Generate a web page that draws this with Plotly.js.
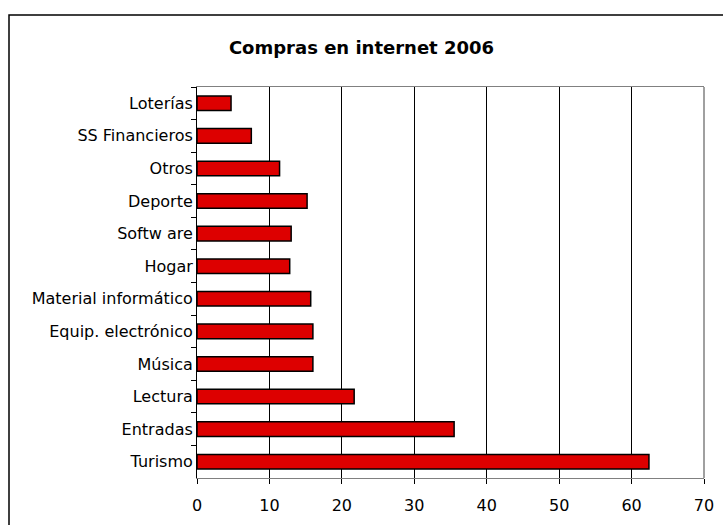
<!DOCTYPE html>
<html>
<head>
<meta charset="utf-8">
<script src="https://cdn.plot.ly/plotly-3.0.1.min.js"></script>
<style>html,body{margin:0;padding:0;background:#fff;}#chart{width:723px;height:525px;}</style>
</head>
<body>
<div id="chart"></div>
<script>
// Categories listed top to bottom as shown
const categories = ["Loterías", "SS Financieros", "Otros", "Deporte", "Softw are", "Hogar",
  "Material informático", "Equip. electrónico", "Música", "Lectura", "Entradas", "Turismo"];
const values = [4.7, 7.5, 11.4, 15.2, 13.0, 12.8, 15.7, 16.0, 16.0, 21.7, 35.5, 62.4];
const xTicks = [0, 10, 20, 30, 40, 50, 60, 70];
const chartTitle = "Compras en internet 2006";

const trace = {
  type: "bar",
  orientation: "h",
  y: categories,
  x: values,
  marker: { color: "#DD0000", line: { color: "#000000", width: 1.5 } },
  hoverinfo: "x+y"
};

const layout = {
  width: 723,
  height: 525,
  paper_bgcolor: "#ffffff",
  plot_bgcolor: "#ffffff",
  margin: { l: 197, r: 19, t: 87, b: 47 },
  showlegend: false,
  bargap: 0.55,
  title: {
    text: "<b>" + chartTitle + "</b>",
    font: { family: "DejaVu Sans", size: 18, color: "#000000" },
    x: 0.5, xanchor: "center",
    y: 1 - 48 / 525, yanchor: "middle"
  },
  xaxis: {
    range: [0, 70],
    tickvals: xTicks,
    ticktext: xTicks.map(String),
    showgrid: true,
    gridcolor: "#000000",
    gridwidth: 1,
    zeroline: false,
    showline: true,
    linecolor: "#808080",
    linewidth: 1,
    mirror: true,
    ticks: "outside",
    ticklen: 5,
    tickcolor: "#000000",
    ticklabelstandoff: 8,
    tickfont: { family: "DejaVu Sans", size: 16, color: "#000000" },
    fixedrange: true
  },
  yaxis: {
    type: "category",
    categoryorder: "array",
    categoryarray: categories,
    autorange: "reversed",
    showgrid: false,
    zeroline: false,
    showline: true,
    linecolor: "#000000",
    linewidth: 1,
    ticks: "outside",
    tickson: "boundaries",
    ticklen: 5,
    tickcolor: "#000000",
    tickfont: { family: "DejaVu Sans", size: 16, color: "#000000" },
    fixedrange: true
  },
  shapes: [
    { type: "line", xref: "paper", yref: "paper", x0: 1, x1: 1, y0: 0, y1: 1,
      line: { color: "#808080", width: 1.5 }, layer: "above" },
    { type: "rect", xref: "paper", yref: "paper",
      x0: (9 - 197) / 507, x1: 1.2, y0: -0.3, y1: (478 - 15) / 391,
      line: { color: "#000000", width: 1.5 }, fillcolor: "rgba(0,0,0,0)", layer: "above" }
  ]
};

Plotly.newPlot("chart", [trace], layout, { staticPlot: true, displayModeBar: false });
</script>
</body>
</html>
